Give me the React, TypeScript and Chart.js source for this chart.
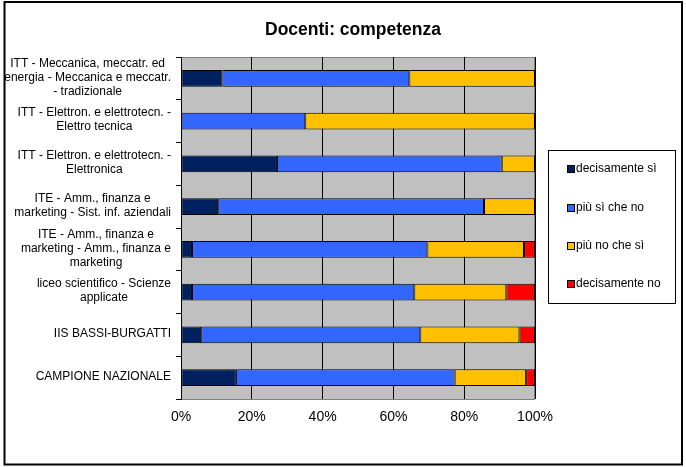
import React, { useEffect, useRef } from "react";
import { Chart, registerables } from "chart.js";

Chart.register(...registerables);

const chartTitle = "Docenti: competenza";

const categories: string[][] = [
  ["ITT - Meccanica, meccatr. ed", "energia - Meccanica e meccatr.", "- tradizionale"],
  ["ITT - Elettron. e elettrotecn. -", "Elettro tecnica"],
  ["ITT - Elettron. e elettrotecn. -", "Elettronica"],
  ["ITE - Amm., finanza e", "marketing - Sist. inf. aziendali"],
  ["ITE - Amm., finanza e", "marketing - Amm., finanza e", "marketing"],
  ["liceo scientifico - Scienze", "applicate"],
  ["IIS BASSI-BURGATTI"],
  ["CAMPIONE NAZIONALE"],
];

const seriesNames = ["decisamente sì", "più sì che no", "più no che sì", "decisamente no"];
const seriesColors = ["#002060", "#3366FF", "#FFC000", "#FF0000"];

const decisamenteSi = [11.7, 0, 27.1, 10.5, 3.1, 3.1, 5.7, 15.5];
const piuSiCheNo = [52.8, 35.1, 63.5, 75.1, 66.5, 62.8, 61.9, 61.8];
const piuNoCheSi = [35.5, 64.9, 9.4, 14.4, 27.3, 26.0, 28.0, 20.2];
const decisamenteNo = [0, 0, 0, 0, 3.1, 8.1, 4.4, 2.5];

const xTicks = [0, 20, 40, 60, 80, 100];

const FONT = '"Liberation Sans", Arial, sans-serif';

const decorPlugin = {
  id: "decor",
  beforeDraw(chart: any) {
    const { ctx, chartArea } = chart;
    ctx.save();
    ctx.fillStyle = "#ffffff";
    ctx.fillRect(0, 0, chart.width, chart.height);
    ctx.fillStyle = "#C0C0C0";
    ctx.fillRect(chartArea.left, chartArea.top, chartArea.right - chartArea.left, chartArea.bottom - chartArea.top);
    ctx.strokeStyle = "#808080";
    ctx.lineWidth = 1;
    ctx.strokeRect(chartArea.left + 0.5, chartArea.top + 0.5, chartArea.right - chartArea.left - 1, chartArea.bottom - chartArea.top);
    ctx.restore();
  },
  afterDraw(chart: any) {
    const { ctx } = chart;
    const yScale = chart.scales.y;
    ctx.save();
    // chart border
    ctx.strokeStyle = "#000";
    ctx.lineWidth = 2;
    ctx.strokeRect(4.5, 2, 677.5, 462.5);
    // title
    ctx.fillStyle = "#000";
    ctx.font = `bold 17.5px ${FONT}`;
    ctx.textAlign = "center";
    ctx.textBaseline = "middle";
    ctx.fillText(chartTitle, 353, 30);
    // category labels
    ctx.font = `12px ${FONT}`;
    const lineH = 14;
    const rightEdge = 171;
    const labels = chart.data.labels as string[][];
    labels.forEach((lines, i) => {
      const cy = yScale.getPixelForValue(i);
      const maxW = Math.max(...lines.map((l) => ctx.measureText(l).width));
      const cx = rightEdge - maxW / 2;
      const startY = cy - ((lines.length - 1) * lineH) / 2;
      lines.forEach((l, j) => {
        ctx.fillText(l, cx, startY + j * lineH - 1);
      });
    });
    // legend
    ctx.strokeStyle = "#000";
    ctx.lineWidth = 1;
    ctx.fillStyle = "#fff";
    ctx.fillRect(548.5, 150.5, 127, 153);
    ctx.strokeRect(548.5, 150.5, 127, 153);
    const itemY = [169, 208, 246, 284];
    ctx.textAlign = "left";
    ctx.font = `12px ${FONT}`;
    chart.data.datasets.forEach((ds: any, i: number) => {
      const y = itemY[i];
      ctx.fillStyle = ds.backgroundColor;
      ctx.fillRect(567, y - 4, 8, 8);
      ctx.strokeStyle = "#000";
      ctx.strokeRect(567.5, y - 3.5, 7, 7);
      ctx.fillStyle = "#000";
      ctx.fillText(ds.label, 576, y);
    });
    ctx.restore();
  },
};

export default function App() {
  const ref = useRef<HTMLCanvasElement | null>(null);
  useEffect(() => {
    if (!ref.current) return;
    const series = [decisamenteSi, piuSiCheNo, piuNoCheSi, decisamenteNo];
    const chart = new Chart(ref.current, {
      type: "bar",
      data: {
        labels: categories as any,
        datasets: series.map((d, i) => ({
          label: seriesNames[i],
          data: d,
          backgroundColor: seriesColors[i],
          borderColor: "#000",
          borderWidth: 1,
          borderSkipped: false,
          barPercentage: 0.39,
          categoryPercentage: 1,
        })),
      },
      options: {
        indexAxis: "y",
        responsive: false,
        animation: false,
        devicePixelRatio: 1,
        layout: { padding: { left: 0, top: 57, right: 151, bottom: 0 } },
        plugins: {
          legend: { display: false },
          title: { display: false },
          tooltip: { enabled: false },
        },
        scales: {
          x: {
            stacked: true,
            min: 0,
            max: 100,
            afterBuildTicks: (scale: any) => {
              scale.ticks = xTicks.map((v) => ({ value: v }));
            },
            afterFit: (scale: any) => {
              scale.height = 68;
            },
            ticks: {
              callback: (v: any) => v + "%",
              color: "#000",
              font: { family: FONT, size: 14 },
              padding: 10,
              maxRotation: 0,
            },
            grid: { color: "#000", drawTicks: false, lineWidth: 1 },
            border: { display: false },
          },
          y: {
            stacked: true,
            afterFit: (scale: any) => {
              scale.width = 181;
            },
            ticks: { display: false },
            grid: {
              offset: true,
              drawOnChartArea: false,
              drawTicks: true,
              tickLength: 5,
              color: "#000",
            },
            border: { display: true, color: "#000", width: 1 },
          },
        },
      },
      plugins: [decorPlugin],
    });
    return () => chart.destroy();
  }, []);
  return (
    <div style={{ position: "fixed", left: 0, top: 0, width: 686, height: 467, background: "#fff" }}>
      <canvas ref={ref} width={686} height={467} style={{ display: "block", width: 686, height: 467 }} />
    </div>
  );
}
